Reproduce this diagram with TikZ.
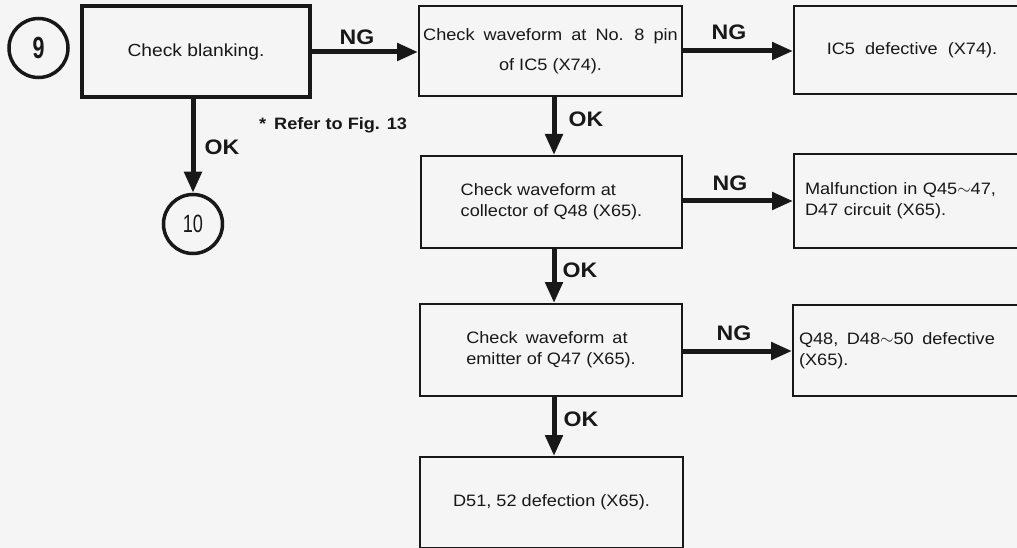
\documentclass[tikz,border=0pt]{standalone}
\usepackage{fontspec}
\setmainfont{Liberation Sans}[FakeStretch=1.1]
\usepackage{graphicx}
\usetikzlibrary{arrows.meta}
\definecolor{ink}{RGB}{24,24,24}
\definecolor{paper}{RGB}{245,245,245}
\newcommand{\wsp}{\hspace{4pt}}
\begin{document}
\begin{tikzpicture}[x=1pt,y=-1pt,
  box/.style={draw=ink, line width=2pt, inner sep=0pt, text=ink,
    font=\fontsize{16.5}{21}\selectfont},
  thickbox/.style={box, line width=3.5pt},
  num/.style={circle, draw=ink, line width=3.5pt, minimum size=59pt, inner sep=0pt, text=ink},
  flow/.style={draw=ink, line width=5pt, -{Triangle[length=21pt,width=17pt]}},
  tag/.style={text=ink, inner sep=0pt, font=\fontsize{21}{21}\selectfont\bfseries},
  note/.style={text=ink, inner sep=0pt, font=\fontsize{16.5}{20}\selectfont\bfseries}]
\useasboundingbox (0,0) rectangle (1017,548);
\fill[paper] (0,0) rectangle (1017,548);

% start / end circles
\node[num] (c9) at (38.5,48) {\scalebox{0.64}[1]{\fontsize{30.5}{30}\selectfont\bfseries 9}};
\node[num] (c10) at (193,224) {\scalebox{0.66}[1]{\fontsize{25}{25}\selectfont 10}};

% boxes
\node[thickbox, minimum width=228pt, minimum height=91pt, font=\fontsize{17.5}{21}\selectfont] (b1) at (196,51.5) {Check blanking.};
\node[box, minimum width=263pt, minimum height=90pt, align=center] (b2) at (550.5,51)
  {Check\wsp{} waveform\wsp{} at\wsp{} No.\wsp{} 8\wsp{} pin\\[9pt]of IC5 (X74).};
\node[box, minimum width=236pt, minimum height=88pt] (b3) at (912,50)
  {IC5\hspace{5pt} defective\hspace{5pt} (X74).};
\node[box, minimum width=261pt, minimum height=92pt, align=left] (b4) at (551.5,202)
  {Check waveform at\\collector of Q48 (X65).};
\node[box, minimum width=236pt, minimum height=94pt, align=left, text width=214pt] (b7) at (912,201)
  {Malfunction in Q45$\sim$47,\\D47 circuit (X65).};
\node[box, minimum width=262pt, minimum height=92pt, align=left] (b5) at (551,350)
  {Check\hspace{3pt} waveform\hspace{3pt} at\\emitter of Q47 (X65).};
\node[box, minimum width=238pt, minimum height=91pt, align=left, text width=226pt] (b8) at (912,350.5)
  {Q48,\hspace{3pt} D48$\sim$50\hspace{3pt} defective\\(X65).};
\node[box, minimum width=263pt, minimum height=91pt] (b6) at (551.5,502.5)
  {D51, 52 defection (X65).};

% connectors
\draw[flow] (b1.south -| c10.north) -- (c10.north);
\draw[flow] (b1.east |- 0,52) -- (b2.west |- 0,52);
\draw[flow] (b2.east |- 0,51) -- (b3.west |- 0,51);
\draw[flow] (b2.south -| 554,0) -- (b4.north -| 554,0);
\draw[flow] (b4.east |- 0,201) -- (b7.west |- 0,201);
\draw[flow] (b4.south -| 554,0) -- (b5.north -| 554,0);
\draw[flow] (b5.east |- 0,351) -- (b8.west |- 0,351);
\draw[flow] (b5.south -| 554,0) -- (b6.north -| 554,0);

% labels
\node[tag] (ng1) at (357,37) {NG};
\node[tag] (ok1) at (222,147) {OK};
\node[tag] (ng2) at (729,32) {NG};
\node[tag] (ok2) at (586,119) {OK};
\node[tag] (ng3) at (730,183) {NG};
\node[tag] (ok3) at (580,270) {OK};
\node[tag] (ng4) at (734,333) {NG};
\node[tag] (ok4) at (581,419) {OK};
\node[note] (ref) at (333,125) {*\hspace{3pt} Refer to Fig. 13};
\end{tikzpicture}
\end{document}
